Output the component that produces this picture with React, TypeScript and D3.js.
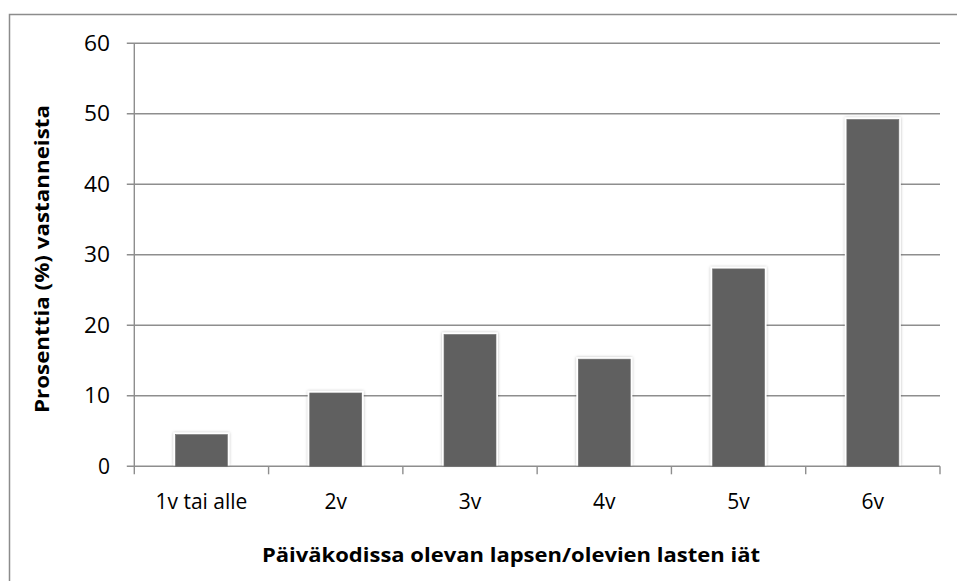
import React from 'react';
import * as d3 from 'd3';

// chart data
const categories = ['1v tai alle', '2v', '3v', '4v', '5v', '6v'];
const values = [4.5, 10.4, 18.7, 15.2, 28.0, 49.2];
const yTicks = [0, 10, 20, 30, 40, 50, 60];
const yTitle = 'Prosenttia (%) vastanneista';
const xTitle = 'Päiväkodissa olevan lapsen/olevien lasten iät';

const W = 957;
const H = 581;
const plot = { left: 134.3, right: 940, top: 43.3, bottom: 466.3 };
const gridColor = '#8e8e8e';
const barColor = '#606060';
const font = '"Open Sans", "Noto Sans", sans-serif';

const App: React.FC = () => {
  const y = d3.scaleLinear().domain([0, 60]).range([plot.bottom, plot.top]);
  const x = d3
    .scaleBand<string>()
    .domain(categories)
    .range([plot.left, plot.right])
    .paddingInner(0.613)
    .paddingOuter(0.3065);
  const step = x.step();

  // band boundaries for the category tick marks
  const boundaries = d3.range(categories.length + 1).map(i => plot.left + i * step);

  return (
    <svg
      width={W}
      height={H}
      style={{ position: 'absolute', left: 0, top: 0, background: '#fff' }}
      fontFamily={font}
    >
      <defs>
        <filter id="barShadow" x="-30%" y="-10%" width="160%" height="120%">
          <feDropShadow dx="0" dy="0" stdDeviation="1.6" floodColor="#000" floodOpacity="0.28" />
        </filter>
      </defs>

      {/* outer chart frame (runs past the picture edge on right/bottom) */}
      <rect x={9.5} y={14.5} width={1000} height={700} fill="none" stroke="#8c8c8c" strokeWidth={1.5} />

      {/* gridlines and y tick labels */}
      {yTicks.map(t => (
        <g key={t}>
          <line x1={plot.left - 7.5} x2={plot.right} y1={y(t)} y2={y(t)} stroke={gridColor} strokeWidth={1.4} />
          <text
            x={110}
            y={y(t)}
            dy="0.36em"
            textAnchor="end"
            fontSize={21}
            fill="#000"
            textLength={t === 0 ? undefined : 26}
            lengthAdjust="spacingAndGlyphs"
          >
            {t}
          </text>
        </g>
      ))}

      {/* y axis line */}
      <line x1={plot.left} x2={plot.left} y1={plot.top} y2={plot.bottom} stroke={gridColor} strokeWidth={1.4} />

      {/* category tick marks */}
      {boundaries.map((bx, i) => (
        <line key={i} x1={bx} x2={bx} y1={plot.bottom} y2={plot.bottom + 8} stroke={gridColor} strokeWidth={1.4} />
      ))}

      {/* bars */}
      {categories.map((c, i) => {
        const bx = x(c)!;
        const bw = x.bandwidth();
        const by = y(values[i]);
        const bh = y(0) - by;
        return (
          <g key={c}>
            <rect
              x={bx - 2}
              y={by - 2}
              width={bw + 4}
              height={bh + 1}
              fill="#fff"
              filter="url(#barShadow)"
            />
            <rect x={bx} y={by} width={bw} height={bh} fill={barColor} stroke="#6e6e6e" strokeWidth={0.6} />
          </g>
        );
      })}

      {/* x tick labels */}
      {categories.map(c => (
        <text
          key={c}
          x={x(c)! + x.bandwidth() / 2}
          y={509}
          textAnchor="middle"
          fontSize={21}
          fill="#000"
        >
          {c}
        </text>
      ))}

      {/* axis titles */}
      <text
        x={511}
        y={561.5}
        textAnchor="middle"
        fontSize={20}
        fontWeight="bold"
        fill="#000"
        textLength={498}
        lengthAdjust="spacingAndGlyphs"
      >
        {xTitle}
      </text>
      <text
        transform="translate(49,259) rotate(-90)"
        textAnchor="middle"
        fontSize={20}
        fontWeight="bold"
        fill="#000"
        textLength={308}
        lengthAdjust="spacingAndGlyphs"
      >
        {yTitle}
      </text>
    </svg>
  );
};

export default App;
